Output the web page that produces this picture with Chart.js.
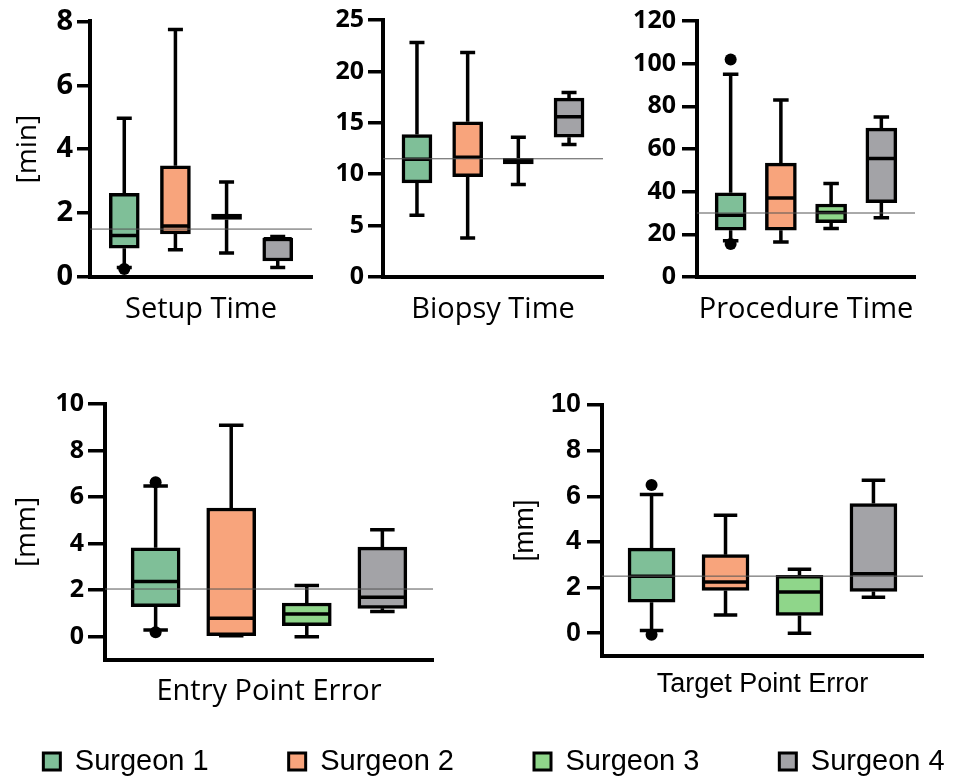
<!DOCTYPE html>
<html>
<head>
<meta charset="utf-8">
<script src="https://cdn.jsdelivr.net/npm/chart.js@4.4.1/dist/chart.umd.min.js"></script>
<style>
  html, body { margin: 0; padding: 0; background: #fff; overflow: hidden; }
  body { position: relative; width: 955px; height: 781px; }
  canvas { position: absolute; }
  #legendWrap { position: absolute; left: 0; top: 667px; width: 955px; height: 114px; overflow: hidden; }
</style>
</head>
<body>
<canvas id="setup" width="325" height="335" style="left:0;top:0"></canvas>
<canvas id="biopsy" width="300" height="335" style="left:310px;top:0"></canvas>
<canvas id="procedure" width="305" height="335" style="left:620px;top:0"></canvas>
<canvas id="entry" width="445" height="345" style="left:0;top:370px"></canvas>
<canvas id="target" width="475" height="345" style="left:480px;top:370px"></canvas>
<div id="legendWrap"><canvas id="legend" width="1120" height="420" style="left:-66px;top:0"></canvas></div>
<script>
const surgeons = ['Surgeon 1', 'Surgeon 2', 'Surgeon 3', 'Surgeon 4'];
const colors = ['#7fbf98', '#f8a47c', '#8fd68a', '#a3a3a7'];

// each row: [lower whisker, Q1, median, Q3, upper whisker]
const setupTime = [[0.3, 0.9, 1.3, 2.62, 4.97], [0.85, 1.35, 1.6, 3.48, 7.75], [0.75, 1.8, 1.88, 1.97, 2.97], [0.3, 0.5, 1.2, 1.22, 1.27]];
const biopsyTime = [[6.0, 9.15, 11.45, 13.85, 22.8], [3.8, 9.75, 11.65, 15.1, 21.85], [9.0, 11.0, 11.3, 11.55, 13.6], [12.9, 13.6, 15.6, 17.4, 17.95]];
const procedureTime = [[17, 21.9, 28.9, 39.5, 95], [16.4, 21.9, 37, 53.4, 83], [22.7, 25.5, 30.2, 34.2, 43.8], [27.8, 34.8, 55.5, 69.8, 75]];
const entryError = [[0.29, 1.29, 2.37, 3.82, 6.48], [0.04, 0.05, 0.79, 5.53, 9.09], [0, 0.47, 0.98, 1.45, 2.2], [1.08, 1.22, 1.7, 3.85, 4.6]];
const targetError = [[0.12, 1.36, 2.49, 3.73, 6.08], [0.8, 1.87, 2.24, 3.44, 5.17], [0, 0.78, 1.8, 2.53, 2.8], [1.58, 1.83, 2.6, 5.68, 6.7]];

const setupOutliers = [[0.25], [], [], []];
const biopsyOutliers = [[], [], [], []];
const procedureOutliers = [[102, 15.5], [], [], []];
const entryOutliers = [[6.64, 0.19], [], [], []];
const targetOutliers = [[6.49, -0.07], [], [], []];

const overallMedian = [1.5, 11.5, 30, 2.05, 2.5];

const setupTicks = [0, 2, 4, 6, 8];
const biopsyTicks = [0, 5, 10, 15, 20, 25];
const procedureTicks = [0, 20, 40, 60, 80, 100, 120];
const errorTicks = [0, 2, 4, 6, 8, 10];

Chart.defaults.font.family = 'Open Sans';
Chart.defaults.color = '#000';

// whiskers, medians, outliers and the overall median line
function boxExtras(stats, outliers, ref) {
    return {
        id: 'boxExtras',
        afterDatasetsDraw(chart) {
            const ctx = chart.ctx;
            const y = chart.scales.y;
            const area = chart.chartArea;
            const meta = chart.getDatasetMeta(0);
            ctx.save();
            ctx.strokeStyle = '#000';
            ctx.fillStyle = '#000';
            ctx.lineWidth = 3.5;
            meta.data.forEach((bar, i) => {
                const s = stats[i];
                const half = bar.width / 2;
                const cap = bar.width / 4;
                ctx.beginPath();
                ctx.moveTo(bar.x, y.getPixelForValue(s[3]));
                ctx.lineTo(bar.x, y.getPixelForValue(s[4]));
                ctx.moveTo(bar.x - cap, y.getPixelForValue(s[4]));
                ctx.lineTo(bar.x + cap, y.getPixelForValue(s[4]));
                ctx.moveTo(bar.x, y.getPixelForValue(s[1]));
                ctx.lineTo(bar.x, y.getPixelForValue(s[0]));
                ctx.moveTo(bar.x - cap, y.getPixelForValue(s[0]));
                ctx.lineTo(bar.x + cap, y.getPixelForValue(s[0]));
                ctx.moveTo(bar.x - half + 1, y.getPixelForValue(s[2]));
                ctx.lineTo(bar.x + half - 1, y.getPixelForValue(s[2]));
                ctx.stroke();
                outliers[i].forEach(v => {
                    ctx.beginPath();
                    ctx.arc(bar.x, y.getPixelForValue(v), 6, 0, Math.PI * 2);
                    ctx.fill();
                });
            });
            ctx.strokeStyle = '#555';
            ctx.lineWidth = 1;
            ctx.beginPath();
            ctx.moveTo(area.left, y.getPixelForValue(ref));
            ctx.lineTo(area.right, y.getPixelForValue(ref));
            ctx.stroke();
            ctx.restore();
        }
    };
}

function makePanel(p) {
    return new Chart(document.getElementById(p.id), {
        type: 'bar',
        data: {
            datasets: [{
                label: p.title,
                data: p.stats.map((s, i) => ({x: i + 1, y: [s[1], s[3]]})),
                backgroundColor: colors,
                borderColor: '#000',
                borderWidth: 3.5,
                borderSkipped: false,
                barThickness: p.box
            }]
        },
        options: {
            responsive: false,
            animation: false,
            events: [],
            layout: {padding: {top: p.padTop, right: p.padRight, left: 0, bottom: 0}},
            plugins: {legend: {display: false}, tooltip: {enabled: false}},
            scales: {
                x: {
                    type: 'linear',
                    offset: false,
                    bounds: 'data',
                    min: 0.33,
                    max: 4.67,
                    afterDataLimits(scale) { scale.min = 0.33; scale.max = 4.67; },
                    ticks: {display: false},
                    grid: {display: false, offset: false},
                    border: {color: '#000', width: 4},
                    title: {
                        display: true,
                        text: p.title,
                        font: {family: p.family, size: p.titleSize},
                        padding: {top: 0, bottom: p.xTitlePad}
                    },
                    afterFit(scale) { scale.height = p.xh; }
                },
                y: {
                    min: p.min,
                    max: p.max,
                    afterBuildTicks(scale) { scale.ticks = p.ticks.map(v => ({value: v})); },
                    ticks: {
                        font: {family: p.tickFamily, size: p.tickSize, weight: 'bold'},
                        padding: p.tickPad,
                        color: '#000'
                    },
                    grid: {drawOnChartArea: false, color: '#000', lineWidth: 3.5, tickLength: p.tickLen},
                    border: {color: '#000', width: 4},
                    title: {
                        display: p.unit !== '',
                        text: p.unit,
                        font: {family: p.family, size: 28},
                        padding: {top: p.yTitlePad, bottom: 0}
                    },
                    afterFit(scale) { scale.width = p.yw; }
                }
            }
        },
        plugins: [boxExtras(p.stats, p.outliers, p.ref)]
    });
}

makePanel({id: 'setup', title: 'Setup Time', unit: '[min]', stats: setupTime, outliers: setupOutliers, ref: overallMedian[0],
    min: 0, max: 8, ticks: setupTicks, padTop: 20, padRight: 13, yw: 90, xh: 58, box: 30,
    family: 'Open Sans', titleSize: 29, xTitlePad: 8, yTitlePad: 11, tickFamily: 'Open Sans', tickSize: 29, tickPad: 4, tickLen: 13});
makePanel({id: 'biopsy', title: 'Biopsy Time', unit: '', stats: biopsyTime, outliers: biopsyOutliers, ref: overallMedian[1],
    min: 0, max: 25, ticks: biopsyTicks, padTop: 20, padRight: 7, yw: 73, xh: 58, box: 30,
    family: 'Open Sans', titleSize: 29, xTitlePad: 8, yTitlePad: 0, tickFamily: 'Open Sans', tickSize: 25, tickPad: 4, tickLen: 15});
makePanel({id: 'procedure', title: 'Procedure Time', unit: '', stats: procedureTime, outliers: procedureOutliers, ref: overallMedian[2],
    min: 0, max: 120, ticks: procedureTicks, padTop: 20, padRight: 10, yw: 77, xh: 58, box: 31,
    family: 'Open Sans', titleSize: 29, xTitlePad: 8, yTitlePad: 0, tickFamily: 'Open Sans', tickSize: 25, tickPad: 6, tickLen: 15});
makePanel({id: 'entry', title: 'Entry Point Error', unit: '[mm]', stats: entryError, outliers: entryOutliers, ref: overallMedian[3],
    min: -1, max: 10, ticks: errorTicks, padTop: 34, padRight: 12, yw: 105, xh: 55, box: 49,
    family: 'Open Sans', titleSize: 29, xTitlePad: 6, yTitlePad: 10, tickFamily: 'Open Sans', tickSize: 25, tickPad: 4, tickLen: 17});
makePanel({id: 'target', title: 'Target Point Error', unit: '[mm]', stats: targetError, outliers: targetOutliers, ref: overallMedian[4],
    min: -1, max: 10, ticks: errorTicks, padTop: 35, padRight: 32, yw: 122, xh: 59, box: 47,
    family: 'Liberation Sans', titleSize: 27, xTitlePad: 14, yTitlePad: 28, tickFamily: 'Liberation Sans', tickSize: 27, tickPad: 6, tickLen: 15});

// shared legend
new Chart(document.getElementById('legend'), {
    type: 'bar',
    data: {
        labels: [],
        datasets: surgeons.map((name, i) => ({
            label: name,
            data: [],
            backgroundColor: colors[i],
            borderColor: '#000',
            borderWidth: 3
        }))
    },
    options: {
        responsive: false,
        animation: false,
        events: [],
        layout: {padding: 0},
        scales: {x: {display: false}, y: {display: false}},
        plugins: {
            tooltip: {enabled: false},
            legend: {
                position: 'top',
                labels: {
                    boxWidth: 17,
                    boxHeight: 17,
                    padding: 80,
                    color: '#000',
                    font: {family: 'Liberation Sans', size: 29}
                }
            }
        }
    }
});
</script>
</body>
</html>
